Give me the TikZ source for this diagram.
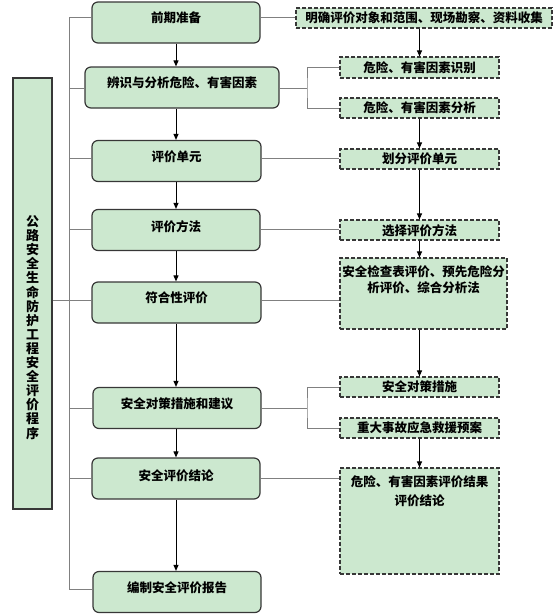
\documentclass[tikz,border=0pt]{standalone}
\usepackage{fontspec}
\setmainfont{Noto Sans CJK SC}
\usetikzlibrary{arrows.meta}
\definecolor{boxgreen}{RGB}{204,232,207}
\definecolor{edgegray}{RGB}{55,55,55}
\definecolor{linegray}{RGB}{128,128,128}
\begin{document}
\begin{tikzpicture}[x=1pt,y=-1pt,
 mainbox/.style={draw=edgegray, line width=1.2pt, fill=boxgreen, rounded corners=6pt, inner sep=0pt, minimum height=41pt},
 dashbox/.style={draw=edgegray, line width=1.1pt, fill=boxgreen, dash pattern=on 4pt off 2pt, inner sep=0pt},
 lbl/.style={font=\bfseries\fontsize{12.5}{16}\selectfont, inner sep=0pt, align=center},
 gline/.style={draw=linegray, line width=0.9pt},
 arr/.style={draw=black, line width=1pt, -{Triangle[length=6pt,width=5pt]}}]
\useasboundingbox (0,0) rectangle (554,616);

% left title box
\node[draw=edgegray, line width=1.2pt, fill=boxgreen, minimum width=39pt, minimum height=431pt, inner sep=0pt] (L) at (32.5,293.5) {};
\node[lbl, font=\bfseries\fontsize{13}{14.1}\selectfont] (Lt) at (32.5,327.5) {公\\路\\安\\全\\生\\命\\防\\护\\工\\程\\安\\全\\评\\价\\程\\序};

% main boxes
\node[mainbox, minimum width=168pt] (m1) at (176,22.5) {};
\node[lbl] (t1) at (176,18) {前期准备};
\node[mainbox, minimum width=194pt] (m2) at (182,87.5) {};
\node[lbl] (t2) at (182,83) {辨识与分析危险、有害因素};
\node[mainbox, minimum width=169pt] (m3) at (176.5,161) {};
\node[lbl] (t3) at (176.5,157) {评价单元};
\node[mainbox, minimum width=168pt] (m4) at (176,230) {};
\node[lbl] (t4) at (176,227) {评价方法};
\node[mainbox, minimum width=169pt] (m5) at (176.5,302.5) {};
\node[lbl] (t5) at (176.5,298) {符合性评价};
\node[mainbox, minimum width=168pt] (m6) at (177,408) {};
\node[lbl] (t6) at (177,404) {安全对策措施和建议};
\node[mainbox, minimum width=168pt] (m7) at (176,478.5) {};
\node[lbl] (t7) at (176,476) {安全评价结论};
\node[mainbox, minimum width=168pt] (m8) at (177,592) {};
\node[lbl] (t8) at (177,588) {编制安全评价报告};

% right dashed boxes
\node[dashbox, minimum width=256pt, minimum height=20pt] (a) at (424,18) {};
\node[lbl] (ta) at (424,18) {明确评价对象和范围、现场勘察、资料收集};
\node[dashbox, minimum width=159pt, minimum height=21pt] (b) at (419.5,67.5) {};
\node[lbl] (tb) at (419.5,68) {危险、有害因素识别};
\node[dashbox, minimum width=159pt, minimum height=20pt] (c) at (419.5,108) {};
\node[lbl] (tc) at (419.5,108) {危险、有害因素分析};
\node[dashbox, minimum width=159pt, minimum height=20pt] (d) at (419.5,159) {};
\node[lbl] (td) at (419.5,159) {划分评价单元};
\node[dashbox, minimum width=159pt, minimum height=20pt] (e) at (419.5,230) {};
\node[lbl] (te) at (419.5,231) {选择评价方法};
\node[dashbox, minimum width=167pt, minimum height=71pt] (f) at (423.5,293.5) {};
\node[lbl] (tf) at (423.5,280) {安全检查表评价、预先危险分\\析评价、综合分析法};
\node[dashbox, minimum width=159pt, minimum height=20pt] (g) at (419.5,387) {};
\node[lbl] (tg) at (419.5,387) {安全对策措施};
\node[dashbox, minimum width=159pt, minimum height=20pt] (h) at (419.5,428) {};
\node[lbl] (th) at (419.5,428) {重大事故应急救援预案};
\node[dashbox, minimum width=159pt, minimum height=106pt] (i) at (419.5,521) {};
\node[lbl, font=\bfseries\fontsize{12.5}{19}\selectfont] (ti) at (419.5,491.5) {危险、有害因素评价结果\\评价结论};

% left bracket
\coordinate (bt) at (69,17);
\coordinate (bb) at (69,589);
\draw[gline] (m1.west |- bt) -- (bt) -- (bb) -- (m8.west |- bb);
\draw[gline] (69,88) -- (m2.west |- 0,88);
\draw[gline] (69,158) -- (m3.west |- 0,158);
\draw[gline] (69,229) -- (m4.west |- 0,229);
\draw[gline] (L.east |- 0,300) -- (m5.west |- 0,300);
\draw[gline] (69,408) -- (m6.west |- 0,408);
\draw[gline] (69,478) -- (m7.west |- 0,478);

% right connectors
\draw[gline] (m1.east |- 0,17) -- (a.west |- 0,17);
\coordinate (br1) at (307,88);
\draw[gline] (m2.east |- br1) -- (br1);
\draw[gline] (b.west) -| (br1) |- (c.west);
\draw[gline] (m3.east |- 0,158) -- (d.west |- 0,158);
\draw[gline] (m4.east |- 0,229.5) -- (e.west |- 0,229.5);
\draw[gline] (m5.east |- 0,300) -- (f.west |- 0,300);
\coordinate (br2) at (307,408);
\draw[gline] (m6.east |- br2) -- (br2);
\draw[gline] (g.west) -| (br2) |- (h.west);
\draw[gline] (m7.east |- 0,478) -- (i.west |- 0,478);

% main arrows
\draw[arr] (m1.south -| 176,0) -- (m2.north -| 176,0);
\draw[arr] (m2.south -| 176,0) -- (m3.north -| 176,0);
\draw[arr] (m3.south -| 176,0) -- (m4.north -| 176,0);
\draw[arr] (m4.south -| 176,0) -- (m5.north -| 176,0);
\draw[arr] (m5.south -| 176,0) -- (m6.north -| 176,0);
\draw[arr] (m6.south -| 176,0) -- (m7.north -| 176,0);
\draw[arr] (m7.south -| 176,0) -- (m8.north -| 176,0);

% right arrows
\draw[arr] (a.south -| b.north) -- (b.north);
\draw[arr] (c.south) -- (d.north);
\draw[arr] (d.south) -- (e.north);
\draw[arr] (e.south) -- (e.south |- f.north);
\draw[arr] (f.south -| g.north) -- (g.north);
\draw[arr] (h.south) -- (i.north);
\end{tikzpicture}
\end{document}
